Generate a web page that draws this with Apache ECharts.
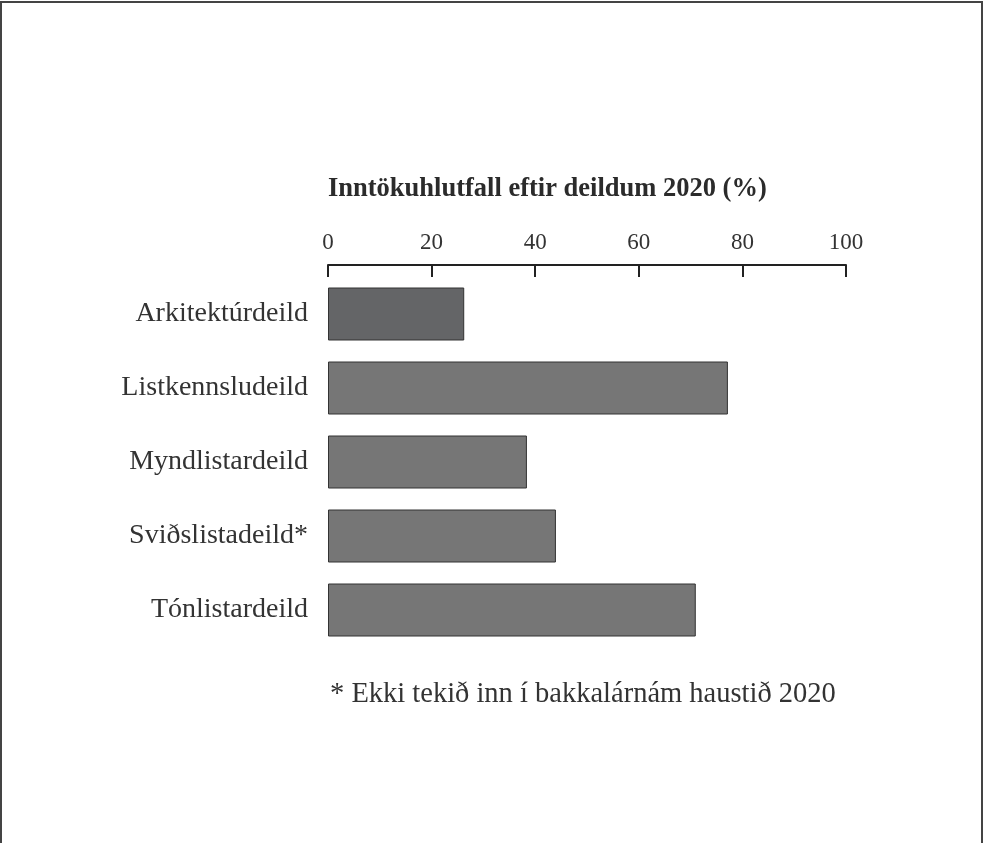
<!DOCTYPE html>
<html>
<head>
<meta charset="utf-8">
<script src="https://cdn.jsdelivr.net/npm/echarts@6/dist/echarts.min.js"></script>
<style>
  html, body { margin: 0; padding: 0; background: #fff; }
  #main { width: 984px; height: 843px; }
</style>
</head>
<body>
<div id="main"></div>
<script>
// deildir og inntökuhlutfall
var categories = ['Arkitektúrdeild', 'Listkennsludeild', 'Myndlistardeild', 'Sviðslistadeild*', 'Tónlistardeild'];
var values = [26.3, 77.2, 38.4, 44, 71];
var tickValues = [0, 20, 40, 60, 80, 100];

var chartDom = document.getElementById('main');
var myChart = echarts.init(chartDom);
var option;

var font = '"Liberation Serif", "DejaVu Serif", serif';

option = {
    animation: false,
    title: {
        text: 'Inntökuhlutfall eftir deildum 2020 (%)',
        left: 328,
        top: 176,
        padding: 0,
        textStyle: { fontFamily: font, fontSize: 26.5, fontWeight: 'bold', color: '#2b2b2b' }
    },
    graphic: [
        {
            type: 'rect',
            shape: { x: 1, y: 2, width: 981, height: 900 },
            style: { fill: 'none', stroke: '#444', lineWidth: 2 }
        },
        {
            type: 'text',
            left: 330,
            top: 680,
            style: { text: '* Ekki tekið inn í bakkalárnám haustið 2020', font: '28.5px ' + font, fill: '#333' }
        }
    ],
    grid: { left: 328, right: 138, top: 277, height: 370 },
    xAxis: {
        type: 'value',
        position: 'top',
        min: 0,
        max: 100,
        interval: 20,
        axisLine: { show: true, lineStyle: { color: '#222', width: 2 } },
        axisTick: { show: true, inside: true, length: 12, lineStyle: { color: '#222', width: 2 } },
        splitLine: { show: false },
        offset: 12,
        axisLabel: {
            fontFamily: font, fontSize: 23, color: '#333', margin: 11,
            formatter: function (v) { return tickValues.indexOf(v) >= 0 ? String(v) : ''; }
        }
    },
    yAxis: {
        type: 'category',
        inverse: true,
        data: categories,
        axisLine: { show: false },
        axisTick: { show: false },
        axisLabel: { fontFamily: font, fontSize: 28, color: '#333', margin: 20 }
    },
    series: [
        {
            type: 'bar',
            barWidth: 53,
            data: values.map(function (v, i) {
                return {
                    value: v,
                    itemStyle: { color: i === 0 ? '#646567' : '#767676' }
                };
            }),
            itemStyle: { borderColor: '#333', borderWidth: 1 }
        }
    ]
};

option && myChart.setOption(option);
</script>
</body>
</html>
